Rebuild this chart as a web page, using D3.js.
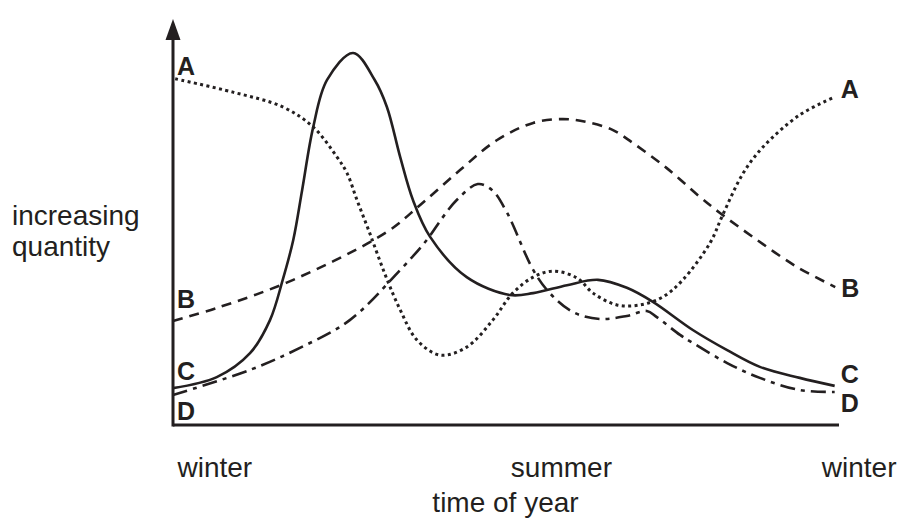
<!DOCTYPE html>
<html>
<head>
<meta charset="utf-8">
<script src="https://cdn.jsdelivr.net/npm/d3@7"></script>
<style>
  body { margin: 0; background: #fff; }
  text { font-family: "Liberation Sans", Arial, sans-serif; fill: #231f20; }
</style>
</head>
<body>
<script>
// months from the start of the year (0 = winter, 12 = winter again)
const monthsA = [0.04, 1.08, 1.98, 2.53, 2.96, 3.14, 3.32, 3.55, 3.83, 4.10, 4.40, 4.82, 5.30, 5.77, 6.13, 6.50, 6.86, 7.29, 7.58, 8.01, 8.43, 8.84, 9.20, 9.69, 9.92, 10.29, 10.65, 11.31, 11.94];
const valuesA = [91.1, 87.6, 83.7, 78.4, 70.5, 66.3, 59.2, 50.5, 39.5, 30.3, 22.4, 18.4, 20.5, 27.6, 34.7, 38.9, 40.5, 38.7, 34.7, 31.6, 31.6, 33.7, 38.2, 47.9, 55.3, 66.3, 73.2, 81.6, 86.3];

const monthsB = [0, 0.79, 2.17, 3.86, 4.46, 5.18, 5.85, 6.50, 7.04, 7.47, 7.94, 8.30, 8.91, 9.51, 9.87, 10.54, 11.26, 11.95];
const valuesB = [27.4, 30.8, 38.2, 50.8, 57.9, 67.1, 75.0, 79.5, 80.5, 79.7, 77.6, 74.2, 67.6, 60.0, 55.8, 48.7, 41.6, 36.3];

const monthsC = [0, 0.79, 1.39, 1.75, 1.98, 2.17, 2.33, 2.53, 2.78, 3.25, 3.64, 3.86, 4.10, 4.33, 4.64, 5.30, 6.08, 6.50, 7.11, 7.67, 8.19, 8.66, 9.38, 10.00, 10.59, 11.31, 11.94];
const valuesC = [9.7, 12.6, 18.9, 27.6, 38.2, 48.7, 61.8, 78.4, 90.8, 97.9, 90.8, 83.7, 70.5, 59.2, 49.5, 38.9, 34.2, 34.7, 36.8, 38.2, 36.1, 32.4, 25.0, 19.7, 15.3, 12.4, 10.3];

const monthsD = [0, 1.39, 2.29, 3.19, 4.10, 4.58, 4.87, 5.12, 5.50, 5.76, 6.03, 6.50, 6.80, 7.22, 7.70, 8.19, 8.55, 8.73, 9.15, 9.38, 10.00, 10.59, 11.31, 11.94];
const valuesD = [7.9, 14.5, 20.3, 27.6, 40.8, 48.7, 54.7, 59.2, 63.4, 61.8, 55.8, 40.8, 34.7, 29.7, 27.9, 28.7, 30.0, 28.4, 23.7, 21.6, 16.3, 12.4, 9.2, 8.7];

const seriesNames = ["A", "B", "C", "D"];
const tickMonths = [0, 7, 12];
const tickLabels = ["winter", "summer", "winter"];
const xTitle = "time of year";
const yTitle = ["increasing", "quantity"];

const width = 900, height = 521;
const margin = {top: 45, right: 62, bottom: 96, left: 173};
const ink = "#231f20";

const svg = d3.select("body").append("svg")
  .attr("width", width)
  .attr("height", height);

const x = d3.scaleLinear().domain([0, 12]).range([margin.left, width - margin.right]);
const y = d3.scaleLinear().domain([0, 100]).range([height - margin.bottom, margin.top]);

const series = [
  {name: "A", months: monthsA, values: valuesA, dash: "3,3.4", w: 3},
  {name: "B", months: monthsB, values: valuesB, dash: "10,7", w: 2.6},
  {name: "C", months: monthsC, values: valuesC, dash: null, w: 2.6},
  {name: "D", months: monthsD, values: valuesD, dash: "15,6,4,6", w: 2.6}
];

const line = d3.line()
  .x(d => x(d[0]))
  .y(d => y(d[1]))
  .curve(d3.curveCatmullRom.alpha(0.5));

series.forEach(s => {
  svg.append("path")
    .datum(d3.zip(s.months, s.values))
    .attr("fill", "none")
    .attr("stroke", ink)
    .attr("stroke-width", s.w)
    .attr("stroke-dasharray", s.dash)
    .attr("d", line);
});

// axes
const x0 = x(0), y0 = y(0);
svg.append("line")
  .attr("x1", x0).attr("y1", y0).attr("x2", x(12) + 1).attr("y2", y0)
  .attr("stroke", ink).attr("stroke-width", 3);
svg.append("line")
  .attr("x1", x0).attr("y1", y0 + 1.5).attr("x2", x0).attr("y2", 36)
  .attr("stroke", ink).attr("stroke-width", 3);
svg.append("path")
  .attr("d", d3.line()([[x0 - 7.5, 40], [x0, 19], [x0 + 7.5, 40]]) + "Z")
  .attr("fill", ink);

const xAxis = d3.axisBottom(x)
  .tickValues(tickMonths)
  .tickSize(0)
  .tickPadding(0)
  .tickFormat((d, i) => tickLabels[i]);

const gx = svg.append("g")
  .attr("transform", "translate(0," + y0 + ")")
  .call(xAxis);
gx.select(".domain").remove();
gx.selectAll("text")
  .attr("y", 52)
  .attr("dy", 0)
  .style("font-size", "28px")
  .attr("fill", ink)
  .attr("text-anchor", (d, i) => i === 0 ? "start" : (i === tickLabels.length - 1 ? "end" : "middle"))
  .attr("dx", (d, i) => i === 0 ? 4 : (i === tickLabels.length - 1 ? 58 : 0));

svg.append("text")
  .attr("x", (x(0) + x(12)) / 2)
  .attr("y", 512)
  .attr("text-anchor", "middle")
  .style("font-size", "28px")
  .text(xTitle);

const yt = svg.append("text")
  .style("font-size", "28px");
yt.append("tspan").attr("x", 12).attr("y", 225).text(yTitle[0]);
svg.append("text")
  .style("font-size", "28px")
  .attr("x", 12).attr("y", 256).text(yTitle[1]);

// series labels at both ends
const leftOffset = {A: -4, B: -13, C: -8, D: 25};
const rightOffset = {A: 1, B: 10, C: -3, D: 20};

series.forEach(s => {
  const n = s.values.length;
  svg.append("text")
    .attr("x", x0 + 4)
    .attr("y", y(s.values[0]) + leftOffset[s.name])
    .style("font-size", "25px")
    .style("font-weight", "bold")
    .text(s.name);
  svg.append("text")
    .attr("x", x(s.months[n - 1]) + 6)
    .attr("y", y(s.values[n - 1]) + rightOffset[s.name])
    .style("font-size", "25px")
    .style("font-weight", "bold")
    .text(s.name);
});
</script>
</body>
</html>
